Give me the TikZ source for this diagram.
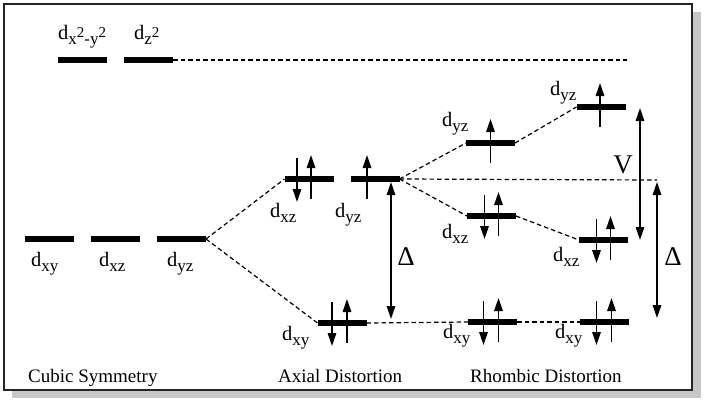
\documentclass[tikz,border=0pt]{standalone}
\usepackage{fontspec}
\setmainfont{Liberation Serif}
\usetikzlibrary{arrows.meta}
\newcommand\orb[1]{d\raisebox{-5pt}{\fontsize{17}{17}\selectfont #1}}
\newcommand\sqr{\raisebox{7pt}{\fontsize{15}{15}\selectfont 2}}
\begin{document}
\begin{tikzpicture}[x=1pt,y=-1pt,
  lvl/.style={fill=black,minimum width=49pt,minimum height=5.5pt,inner sep=0pt,outer sep=0pt},
  lab/.style={anchor=base west,inner sep=0pt,font=\fontsize{20.5}{22}\selectfont},
  big/.style={anchor=base,inner sep=0pt,font=\fontsize{27}{29}\selectfont},
  captext/.style={anchor=base west,inner sep=0pt,font=\fontsize{19}{21}\selectfont},
  conn/.style={dash pattern=on 4.5pt off 3pt,line width=1.2pt},
  spin/.style={line width=1.5pt,-{Triangle[length=13pt,width=8.5pt]}},
  gap/.style={line width=1.5pt,{Triangle[length=13pt,width=8.5pt]}-{Triangle[length=13pt,width=8.5pt]}}]
\useasboundingbox (0,0) rectangle (704,402);
\fill[black!22] (12,12) rectangle (701,398);
\draw[fill=white,draw=black!85,line width=1.8pt] (4,4) rectangle (692,390);
% levels
\node[lvl] (x2y2) at (82.5,60) {};
\node[lvl] (z2) at (148.5,60) {};
\node[lvl] (cxy) at (49.5,239) {};
\node[lvl] (cxz) at (115.5,239) {};
\node[lvl] (cyz) at (181.5,239) {};
\node[lvl] (axz) at (309,179) {};
\node[lvl] (ayz) at (375,179) {};
\node[lvl] (axy) at (342,323) {};
\node[lvl] (ryz) at (490.5,143) {};
\node[lvl] (rxz) at (491.5,216) {};
\node[lvl] (rxy) at (492.5,322) {};
\node[lvl] (syz) at (601,107) {};
\node[lvl] (sxz) at (603.5,240) {};
\node[lvl] (sxy) at (604.5,322) {};
\coordinate (zend) at (627,60);
\coordinate (hend) at (657,180);
% connectors
\draw[conn] (z2.east) -- (zend);
\draw[conn] (cyz.east) -- (axz.west);
\draw[conn] (cyz.east) -- (axy.west);
\draw[conn] (ayz.east) -- (ryz.west);
\draw[conn] (ayz.east) -- (rxz.west);
\draw[conn] (ayz.east) -- (hend);
\draw[conn] (ryz.east) -- (syz.west);
\draw[conn] (rxz.east) -- (sxz.west);
\draw[conn] (axy.east) -- (rxy.west);
\draw[conn] (rxy.east) -- (sxy.west);
% spins
\newcommand\spinup[2]{\draw[spin] ([xshift=#2pt,yshift=-20pt]#1.center) -- ([xshift=#2pt,yshift=24pt]#1.center);}
\newcommand\spindn[2]{\draw[spin] ([xshift=#2pt,yshift=21pt]#1.center) -- ([xshift=#2pt,yshift=-23pt]#1.center);}
\spindn{axz}{-12}\spinup{axz}{2}
\spinup{ayz}{-8}
\spindn{axy}{-10}\spinup{axy}{5}
\spinup{ryz}{0}
\spindn{rxz}{-7}\spinup{rxz}{7}
\spindn{rxy}{-9}\spinup{rxy}{6}
\spinup{syz}{-1}
\spindn{sxz}{-7}\spinup{sxz}{7}
\spindn{sxy}{-8}\spinup{sxy}{7}
% gaps
\coordinate (g1t) at (391,182);
\coordinate (g1b) at (391,319);
\coordinate (g2t) at (640,108);
\coordinate (g2b) at (640,240);
\coordinate (g3t) at (657,182);
\coordinate (g3b) at (657,318);
\draw[gap] (g1t) -- (g1b);
\draw[gap] (g2t) -- (g2b);
\draw[gap] (g3t) -- (g3b);
\node[big] (d1) at (406,265) {Δ};
\node[big] (vv) at (623,173) {V};
\node[big] (d2) at (673,265) {Δ};
% labels
\node[lab] (lx2y2) at (58,39) {\orb{x\sqr-y\sqr}};
\node[lab] (lz2) at (134,39) {\orb{z\sqr}};
\node[lab] (lcxy) at (31,266) {\orb{xy}};
\node[lab] (lcxz) at (99,266) {\orb{xz}};
\node[lab] (lcyz) at (167,266) {\orb{yz}};
\node[lab] (laxz) at (270,217) {\orb{xz}};
\node[lab] (layz) at (335,217) {\orb{yz}};
\node[lab] (laxy) at (282,340) {\orb{xy}};
\node[lab] (lryz) at (442,126) {\orb{yz}};
\node[lab] (lrxz) at (442,238) {\orb{xz}};
\node[lab] (lrxy) at (443,338) {\orb{xy}};
\node[lab] (lsyz) at (550,95) {\orb{yz}};
\node[lab] (lsxz) at (553,261) {\orb{xz}};
\node[lab] (lsxy) at (555,338) {\orb{xy}};
\node[captext] (t1) at (28,382) {Cubic Symmetry};
\node[captext] (t2) at (278,382) {Axial Distortion};
\node[captext] (t3) at (470,382) {Rhombic Distortion};
\end{tikzpicture}
\end{document}
